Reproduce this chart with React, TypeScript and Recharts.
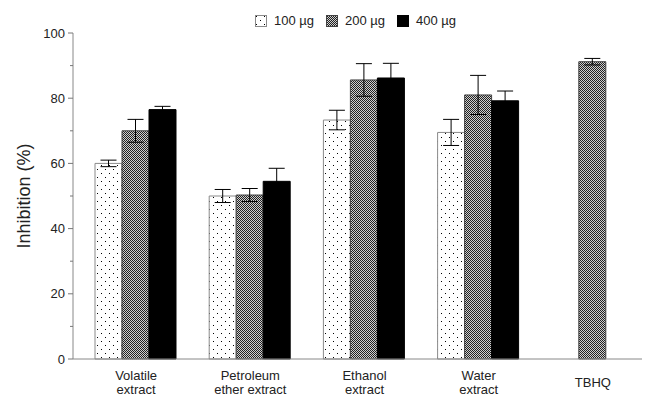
import { Bar, BarChart, ErrorBar, Legend, XAxis, YAxis } from 'recharts';

const categories = ['Volatile extract', 'Petroleum ether extract', 'Ethanol extract', 'Water extract', 'TBHQ'];
const labelLines = [['Volatile', 'extract'], ['Petroleum', 'ether extract'], ['Ethanol', 'extract'], ['Water', 'extract'], ['TBHQ']];

const v100 = [60, 50, 73.3, 69.5, null];
const e100 = [1, 2, 3, 4, null];
const v200 = [70, 50.3, 85.6, 81, 91.2];
const e200 = [3.5, 2, 5, 6, 1];
const v400 = [76.5, 54.5, 86.2, 79.2, null];
const e400 = [1, 4, 4.5, 3, null];

const yTicks = [0, 10, 20, 30, 40, 50, 60, 70, 80, 90, 100];

const seriesInfo = [
  { key: 'v100', err: 'e100', name: '100 \u00b5g', fill: 'url(#dots)', stroke: '#8a8a8a' },
  { key: 'v200', err: 'e200', name: '200 \u00b5g', fill: 'url(#checker)', stroke: '#444' },
  { key: 'v400', err: 'e400', name: '400 \u00b5g', fill: '#000', stroke: '#000' },
];

const data = categories.map((c, i) => ({
  name: c,
  v100: v100[i],
  e100: e100[i],
  v200: v200[i],
  e200: e200[i],
  v400: v400[i],
  e400: e400[i],
}));

const font = '"Liberation Sans", Arial, sans-serif';

const YTick = ({ x, y, payload }: any) => {
  const major = payload.value % 20 === 0;
  return (
    <g>
      <line x1={x - (major ? 5 : 3)} x2={x} y1={y} y2={y} stroke='#777' />
      {major && (
        <text x={x - 8} y={y} dy={4.5} textAnchor='end' fontSize={13} fill='#222' fontFamily={font}>
          {payload.value}
        </text>
      )}
    </g>
  );
};

const XTick = ({ x, y, index }: any) => {
  const lines = labelLines[index];
  const startY = lines.length === 1 ? y + 20 : y + 13;
  return (
    <text x={x} y={startY} textAnchor='middle' fontSize={13} fill='#222' fontFamily={font}>
      {lines.map((l, i) => (
        <tspan key={l} x={x} dy={i === 0 ? 0 : 14}>
          {l}
        </tspan>
      ))}
    </text>
  );
};

const LegendBox = () => (
  <div style={{ display: 'flex', justifyContent: 'center', fontFamily: font, fontSize: 13, color: '#222' }}>
    {seriesInfo.map((s) => (
      <div key={s.key} style={{ display: 'flex', alignItems: 'center', marginRight: 12 }}>
        <svg width={12} height={12} style={{ marginRight: 7 }}>
          <rect x={0.5} y={0.5} width={11} height={11} fill={s.fill} stroke={s.stroke} />
        </svg>
        <span>{s.name}</span>
      </div>
    ))}
  </div>
);

export default function App() {
  return (
    <BarChart
      width={642}
      height={390}
      data={data}
      margin={{ top: 10, right: 0, left: 0, bottom: 0 }}
      barGap={0}
      barCategoryGap={16}
    >
      <defs>
        <pattern id='dots' width={8} height={8} patternUnits='userSpaceOnUse'>
          <rect width={8} height={8} fill='#fff' />
          <rect x={1} y={1} width={1} height={1} fill='#000' />
          <rect x={5} y={5} width={1} height={1} fill='#000' />
        </pattern>
        <pattern id='checker' width={2} height={2} patternUnits='userSpaceOnUse'>
          <rect width={2} height={2} fill='#cfcfcf' />
          <rect x={0} y={0} width={1} height={1} fill='#222' />
          <rect x={1} y={1} width={1} height={1} fill='#222' />
        </pattern>
      </defs>
      <XAxis
        dataKey='name'
        height={39}
        stroke='#888'
        tickLine={false}
        tick={<XTick />}
        padding={{ left: 6, right: 0 }}
        interval={0}
      />
      <YAxis
        width={65}
        domain={[0, 100]}
        ticks={yTicks}
        stroke='#888'
        tickLine={false}
        tickSize={0}
        tickMargin={0}
        tick={<YTick />}
        interval={0}
        label={{
          value: 'Inhibition (%)',
          angle: -90,
          position: 'insideLeft',
          offset: 16,
          style: { fontFamily: font, fontSize: 18, fill: '#222', textAnchor: 'middle' },
        }}
      />
      <Legend
        verticalAlign='top'
        content={<LegendBox />}
        wrapperStyle={{ top: 5, left: 65, width: 577 }}
      />
      {seriesInfo.map((s) => (
        <Bar key={s.key} dataKey={s.key} name={s.name} fill={s.fill} stroke={s.stroke} strokeWidth={1} isAnimationActive={false}>
          <ErrorBar dataKey={s.err} width={8} stroke='#000' strokeWidth={1} />
        </Bar>
      ))}
    </BarChart>
  );
}
